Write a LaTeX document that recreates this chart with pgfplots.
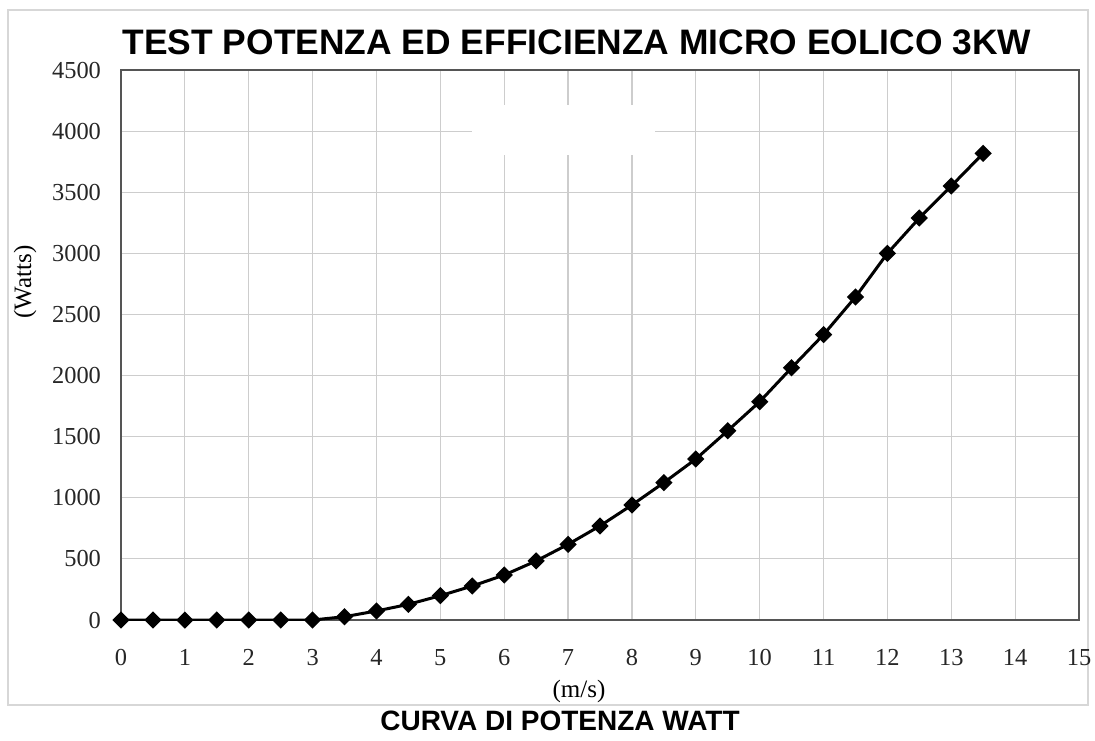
\documentclass[border=0pt]{standalone}
\usepackage{pgfplots}
\pgfplotsset{compat=1.18}
\usepackage{fontspec}
\setmainfont{Liberation Serif}
\newfontfamily\arialbold[BoldFont={* Bold}]{Liberation Sans}
\definecolor{gridc}{RGB}{205,205,205}
\definecolor{axc}{RGB}{85,85,85}
\definecolor{framec}{RGB}{215,215,215}
\begin{document}
\begin{tikzpicture}
\path[use as bounding box] (0,0) rectangle (547.5pt,370pt);
\draw[framec, line width=0.8pt] (4pt,17.5pt) rectangle (544pt,365pt);
\begin{axis}[
  at={(60.5pt,60pt)}, anchor=south west,
  scale only axis, width=479pt, height=275pt,
  xmin=0, xmax=15, ymin=0, ymax=4500,
  xtick={0,1,...,15}, ytick={0,500,...,4500},
  grid=major, major grid style={gridc, line width=0.6pt},
  axis line style={axc, line width=0.9pt},
  major tick length=0pt,
  /pgf/number format/assume math mode=true,
  /pgf/number format/1000 sep={},
  tick label style={font=\fontsize{12.2}{14}\selectfont, color=black!85},
  xticklabel style={yshift=-11pt},
  yticklabel style={xshift=-6.5pt},
]
\addplot[black, line width=1.5pt, mark=square*, mark size=2.3pt, mark options={rotate=45}]
coordinates {
(0,0) (0.5,0) (1,0) (1.5,0) (2,0) (2.5,0) (3,0) (3.5,27) (4,74) (4.5,128)
(5,199) (5.5,278) (6,368) (6.5,483) (7,619) (7.5,770) (8,941) (8.5,1124)
(9,1317) (9.5,1549) (10,1786) (10.5,2064) (11,2335) (11.5,2643) (12,3000)
(12.5,3289) (13,3551) (13.5,3818)
};
\fill[white] (axis cs:5.5,3805) rectangle (axis cs:8.36,4214);
\end{axis}
\node[font=\arialbold\bfseries\fontsize{17.7}{19}\selectfont] at (288.5pt,349pt) {TEST POTENZA ED EFFICIENZA MICRO EOLICO 3KW};
\node[font=\arialbold\bfseries\fontsize{14}{16}\selectfont] at (280pt,9.5pt) {CURVA DI POTENZA WATT};
\node[font=\fontsize{12.5}{14}\selectfont] at (289.5pt,24.5pt) {(m/s)};
\node[font=\fontsize{12.5}{14}\selectfont, rotate=90] at (12.5pt,229pt) {(Watts)};
\end{tikzpicture}
\end{document}
